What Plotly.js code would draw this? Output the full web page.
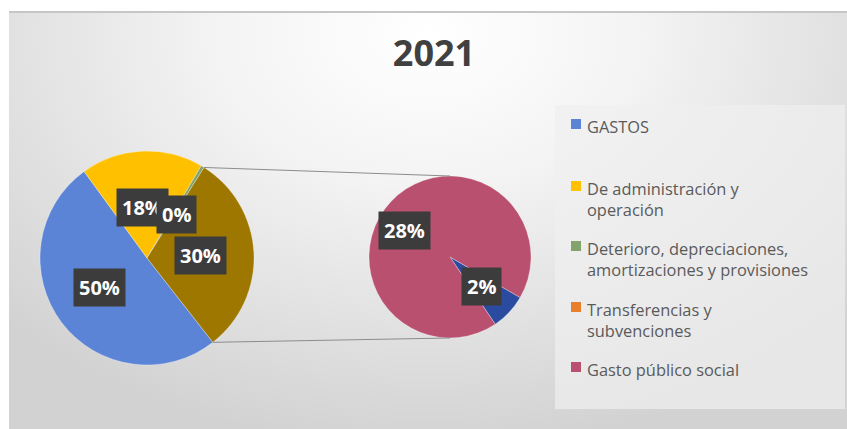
<!DOCTYPE html>
<html><head><meta charset="utf-8">
<script src="https://cdn.plot.ly/plotly-3.0.1.min.js"></script>
<style>
html,body{margin:0;padding:0;background:#fff;}
#wrap{position:relative;width:847px;height:429px;overflow:hidden;}
#bg{position:absolute;left:9px;top:11px;right:0;bottom:0;background:radial-gradient(ellipse 70% 100% at 50% 5%, #ffffff 0%, #f4f4f4 35%, #d2d2d2 100%);border-top:2px solid #c6c6c6;}
#chart{position:absolute;left:0;top:0;width:847px;height:429px;}
</style></head><body>
<div id="wrap"><div id="bg"></div><div id="chart"></div></div>
<script>
// ---- data ----
const chartTitle = '2021';
const categories = ['GASTOS', 'De administración y operación', 'Deterioro, depreciaciones, amortizaciones y provisiones', 'Transferencias y subvenciones', 'Gasto público social'];
const legendLabels = ['GASTOS', 'De administración y<br>operación', 'Deterioro, depreciaciones,<br>amortizaciones y provisiones', 'Transferencias y<br>subvenciones', 'Gasto público social'];
const values = [50.4, 18.4, 0.49, 2.2, 28.2];   // percent of total
const primaryIdx = [0, 1, 2];
const secondaryIdx = [3, 4];
const otherLabel = 'Otro';

// ---- style ----
const W = 847, H = 429;
const legendColors = ['#5B84D6', '#FFC000', '#82A36C', '#E97F2B', '#B9506F'];
const primaryColors = ['#5B84D6', '#FFC000', '#82A36C', '#9E7700'];
const secondaryColors = ['#2A4BA0', '#B9506F'];
const pie1 = {cx: 147, cy: 258, r: 107, rot: 142};
const pie2 = {cx: 450, cy: 257, r: 81, rot: 120};
const lab1 = {f: [0.52, 0.47, 0.49, 0.5], nudge: [5, -2, 3, 0]};
const lab2 = {f: [0.53, 0.65], nudge: [0, -13]};
const legendBox = {x0: 555, x1: 845, y0: 105, y1: 409};
const legendLineY = [124, 186, 246, 307, 367];

const X = p => p / W, Y = p => 1 - p / H;
const rad = d => d * Math.PI / 180;

const pVals = primaryIdx.map(i => values[i]);
const sVals = secondaryIdx.map(i => values[i]);
const otherVal = sVals.reduce((a, b) => a + b, 0);
const leftVals = pVals.concat([otherVal]);
const leftLabels = primaryIdx.map(i => categories[i]).concat([otherLabel]);
const rightLabels = secondaryIdx.map(i => categories[i]);

function dom(p) {
  return {x: [X(p.cx - p.r), X(p.cx + p.r)], y: [Y(p.cy + p.r), Y(p.cy - p.r)]};
}
function pt(p, ang, f) {
  return [p.cx + f * p.r * Math.sin(rad(ang)), p.cy - f * p.r * Math.cos(rad(ang))];
}
function sliceAngles(vals, rot) {
  const tot = vals.reduce((a, b) => a + b, 0);
  let cum = 0;
  return vals.map(v => { const s = rot + 360 * cum / tot; cum += v; const e = rot + 360 * cum / tot; return {s, e, m: (s + e) / 2}; });
}

const traces = [
  {type: 'pie', values: leftVals, labels: leftLabels, sort: false, direction: 'clockwise', rotation: pie1.rot,
   marker: {colors: primaryColors, line: {color: 'rgba(255,255,255,0.5)', width: 0.6}},
   textinfo: 'none', hoverinfo: 'label+percent', showlegend: false, domain: dom(pie1)},
  {type: 'pie', values: sVals, labels: rightLabels, sort: false, direction: 'clockwise', rotation: pie2.rot,
   marker: {colors: secondaryColors, line: {color: 'rgba(255,255,255,0.5)', width: 0.6}},
   textinfo: 'none', hoverinfo: 'label+percent', showlegend: false, domain: dom(pie2)}
];

const annotations = [];
const shapes = [];
const labFont = {family: 'Open Sans', size: 20, color: '#ffffff', weight: 700};

function addLabel(px, py, v) {
  annotations.push({xref: 'paper', yref: 'paper', x: X(px), y: Y(py), xanchor: 'center', yanchor: 'middle',
    text: Math.round(v) + '%', showarrow: false, font: labFont, bgcolor: '#3c3c3c', borderpad: 5});
}
const a1 = sliceAngles(leftVals, pie1.rot);
leftVals.forEach((v, i) => {
  const [px, py] = pt(pie1, a1[i].m + lab1.nudge[i], lab1.f[i]);
  addLabel(px, py, v);
});
const a2 = sliceAngles(sVals, pie2.rot);
sVals.forEach((v, i) => {
  const [px, py] = pt(pie2, a2[i].m + lab2.nudge[i], lab2.f[i]);
  addLabel(px, py, v);
});

// connector lines from "other" slice to secondary pie
const oth = a1[a1.length - 1];
const pTop = pt(pie1, oth.s, 1), pBot = pt(pie1, oth.e, 1);
shapes.push({type: 'line', xref: 'paper', yref: 'paper', x0: X(pTop[0]), y0: Y(pTop[1]), x1: X(pie2.cx), y1: Y(pie2.cy - pie2.r), line: {color: '#8c8c8c', width: 1}});
shapes.push({type: 'line', xref: 'paper', yref: 'paper', x0: X(pBot[0]), y0: Y(pBot[1]), x1: X(pie2.cx), y1: Y(pie2.cy + pie2.r), line: {color: '#8c8c8c', width: 1}});

// legend
shapes.push({type: 'rect', xref: 'paper', yref: 'paper', x0: X(legendBox.x0), x1: X(legendBox.x1), y0: Y(legendBox.y1), y1: Y(legendBox.y0),
  fillcolor: 'rgba(240,240,240,0.7)', line: {width: 0}, layer: 'below'});
categories.forEach((c, i) => {
  const yc = legendLineY[i];
  shapes.push({type: 'rect', xref: 'paper', yref: 'paper', x0: X(571), x1: X(581), y0: Y(yc + 5), y1: Y(yc - 5),
    fillcolor: legendColors[i], line: {width: 0}});
  annotations.push({xref: 'paper', yref: 'paper', x: X(585), y: Y(yc - 11), xanchor: 'left', yanchor: 'top', align: 'left',
    text: legendLabels[i], showarrow: false, font: {family: 'Open Sans', size: 16.4, color: '#5a5a5a'}});
});

const layout = {
  width: W, height: H, margin: {l: 0, r: 0, t: 0, b: 0},
  paper_bgcolor: 'rgba(0,0,0,0)', plot_bgcolor: 'rgba(0,0,0,0)',
  title: {text: chartTitle, font: {family: 'Open Sans', size: 36, color: '#404040', weight: 700},
    x: X(434), xanchor: 'center', xref: 'paper', y: Y(53), yanchor: 'middle', yref: 'container'},
  showlegend: false, annotations, shapes
};
Plotly.newPlot('chart', traces, layout, {displayModeBar: false, staticPlot: true});
</script>
</body></html>
